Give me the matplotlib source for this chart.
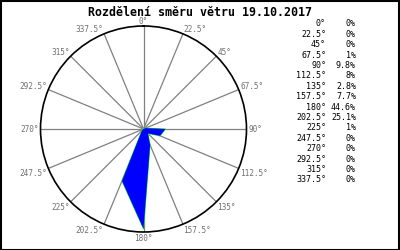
import numpy as np
import matplotlib
matplotlib.use('Agg')
import matplotlib.pyplot as plt
from matplotlib.patches import Rectangle

# Data
title = 'Rozdělení směru větru 19.10.2017'
directions = [0, 22.5, 45, 67.5, 90, 112.5, 135, 157.5, 180, 202.5, 225,
    247.5, 270, 292.5, 315, 337.5]
share = [0, 0, 0, 1, 9.8, 8, 2.8, 7.7, 44.6, 25.1, 1, 0, 0, 0, 0, 0]
dir_labels = ['0°', '22.5°', '45°', '67.5°', '90°', '112.5°', '135°',
    '157.5°', '180°', '202.5°', '225°', '247.5°', '270°', '292.5°', '315°',
    '337.5°']
share_labels = ['0%', '0%', '0%', '1%', '9.8%', '8%', '2.8%', '7.7%',
    '44.6%', '25.1%', '1%', '0%', '0%', '0%', '0%', '0%']
r_max = 46
#-------------------------------------------------------------------------------

W, H = 400, 250
fig = plt.figure(figsize=(4, 2.5), dpi=100)
fig.patch.set_facecolor('white')
fig.patches.append(Rectangle((0.5/W, 0.5/H), 1 - 1.5/W, 1 - 1.5/H,
    transform=fig.transFigure, fill=False, edgecolor='black', lw=1.5))

mono = 'DejaVu Sans Mono'
fig.text(200/W, 1 - 12/H, title, ha='center', va='center', family=mono,
    weight='bold', fontsize=8.4)

# polar plot, center (143.5,129) px, radius 103 px
cx, cy, rad = 143.5, 129, 103
ax = fig.add_axes([(cx - rad)/W, 1 - (cy + rad)/H, 2*rad/W, 2*rad/H],
    projection='polar')
ax.set_theta_zero_location('N')
ax.set_theta_direction(-1)
ax.set_ylim(0, r_max)
ax.set_facecolor('white')
ax.set_xticks(np.deg2rad(directions))
ax.set_xticklabels([])
ax.set_yticks([])
ax.xaxis.grid(True, color='#808080', lw=0.9, ls='-')
ax.yaxis.grid(False)
ax.spines['polar'].set_color('black')
ax.spines['polar'].set_linewidth(1.2)

th = np.deg2rad(directions + [directions[0]])
rr = share + [share[0]]
ax.plot(th, rr, color='#00ff00', lw=0.7, zorder=3)
ax.fill(th, rr, color='blue', lw=0, zorder=4)

for d, lab in zip(directions, dir_labels):
    t = np.deg2rad(d)
    if d in (0, 180):
        ha = 'center'
    elif d < 180:
        ha = 'left'
    else:
        ha = 'right'
    if d in (90, 270):
        va = 'center'
    elif d < 90 or d > 270:
        va = 'baseline'
    else:
        va = 'top'
    ax.text(t, r_max*1.015, lab, ha=ha, va=va, family=mono, fontsize=5.6,
        color='#707070', clip_on=False)

# table on the right
for i, (lab, s) in enumerate(zip(dir_labels, share_labels)):
    y = 1 - (24 + i*10.4)/H
    fig.text(326/W, y, lab, ha='right', va='center', family=mono,
        fontsize=6, color='black')
    fig.text(356/W, y, s, ha='right', va='center', family=mono,
        fontsize=6, color='black')

fig.savefig('out.png', dpi=100)
